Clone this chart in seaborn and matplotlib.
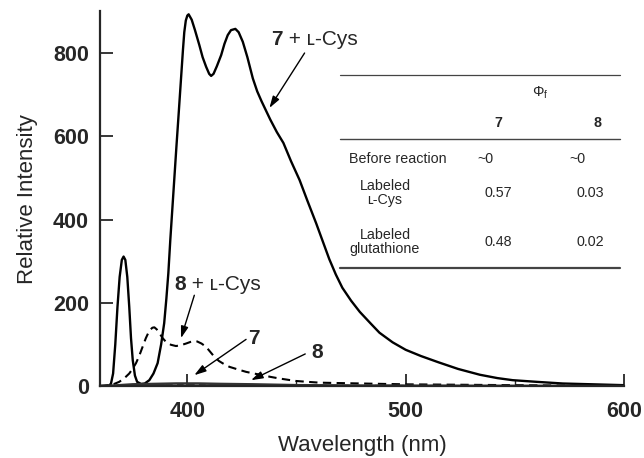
import numpy as np
import pandas as pd
import matplotlib.pyplot as plt
from matplotlib.lines import Line2D
import seaborn as sns

# spectra (wavelength nm, relative intensity)
wl_7cys = [360, 362, 364, 365, 366, 367, 368, 369, 370, 370.8, 371.6, 372.5, 373.4, 374.2,
           375, 376, 377, 378.8, 380.5, 382.6, 384.5, 386.4, 388, 389.4, 390.4, 391.3,
           392.2, 393, 394, 395, 396, 397, 398, 398.6, 399.3, 400, 400.6, 402, 403.5,
           405.5, 407, 408.6, 410, 410.9, 412, 413.5, 415.5, 417, 418.5, 420, 422, 423.5,
           425.4, 427.5, 430, 432, 434, 436, 438, 441, 444, 447.5, 451.4, 455, 459, 462,
           465, 468, 471, 475, 479, 484, 488, 494, 500, 507, 515, 524, 534, 542, 549,
           560, 572, 586, 600]
int_7cys = [0, 0, 1, 5, 30, 100, 190, 262, 303, 311, 303, 262, 190, 115,
            62, 25, 10, 5, 6, 14, 30, 55, 100, 151, 210, 271,
            351, 415, 495, 575, 652, 730, 808, 850, 878, 890, 893, 880, 855,
            819, 790, 767, 750, 745, 750, 768, 795, 822, 843, 855, 858, 850,
            827, 790, 739, 708, 684, 662, 640, 610, 584, 540, 495, 445, 391, 348,
            305, 268, 236, 205, 178, 150, 128, 105, 87, 72, 57, 41, 27, 19, 14,
            10, 6, 4, 2]

wl_8cys = [360, 364.2, 366.5, 368.8, 371, 373.4, 375, 376.5, 378, 379.5, 381, 382.6, 384,
           384.9, 386, 387.2, 388.7, 390.2, 392.5, 394.8, 397, 399.4, 401.5, 403, 404.5,
           406.5, 408.6, 410.5, 412.4, 414.5, 417, 419.3, 423, 426.9, 430.5, 434.5, 438,
           442.2, 446, 449.9, 455, 460.6, 470, 480, 490, 500, 525, 550, 575, 600]
int_8cys = [0, 2, 5, 10, 18, 30, 42, 55, 73, 94, 115, 133, 140,
            141, 136, 127, 115, 106, 99, 96, 98, 102, 106, 108, 107,
            102, 94, 82, 70, 60, 52, 46, 40, 34, 30, 26, 22,
            18, 15, 12, 10, 8, 7, 6, 5, 4, 3, 2, 1, 1]

wl_7 = [360, 366, 375, 385, 395, 405, 415, 430, 450, 480, 520, 600]
int_7 = [0, 1, 4, 5, 6, 6, 5, 4, 2, 1, 0.5, 0]

wl_8 = [360, 370, 385, 400, 420, 445, 480, 530, 600]
int_8 = [0, 1, 2, 3, 2, 1.5, 1, 0.5, 0]

# quantum yield table
row_labels = ["Before reaction", "Labeled\n\u029f-Cys", "Labeled\nglutathione"]
phi_7 = ["~0", "0.57", "0.48"]
phi_8 = ["~0", "0.03", "0.02"]

sns.set_style("ticks")
plt.rcParams['font.family'] = ['Liberation Sans', 'DejaVu Sans']
plt.rcParams['mathtext.fontset'] = 'custom'
plt.rcParams['mathtext.rm'] = 'Liberation Sans'
plt.rcParams['mathtext.it'] = 'Liberation Sans:italic'

W, H = 644, 458
fig = plt.figure(figsize=(W / 100, H / 100), dpi=100)
ax = fig.add_axes([100 / W, 1 - 386 / H, 524 / W, (386 - 11.4) / H])

sns.lineplot(x=wl_7cys, y=int_7cys, color='black', lw=1.7, ax=ax)
sns.lineplot(x=wl_8cys, y=int_8cys, color='black', lw=1.5, linestyle=(0, (4, 2.6)), ax=ax)
sns.lineplot(x=wl_7, y=int_7, color='#333333', lw=1.8, ax=ax)
sns.lineplot(x=wl_8, y=int_8, color='#333333', lw=1.2, linestyle=(0, (4, 2.6)), ax=ax)

ax.set_xlim(360, 600)
ax.set_ylim(0, 900)
ax.set_xticks([400, 500, 600])
ax.set_xticks([450, 550], minor=True)
ax.set_yticks([0, 200, 400, 600, 800])
ax.tick_params(axis='both', which='major', direction='in', length=9, width=1.3,
               labelsize=15.5)
ax.tick_params(axis='y', which='major', pad=8)
ax.tick_params(axis='x', which='major', pad=11)
ax.tick_params(axis='x', which='minor', direction='in', length=4.5, width=1.0)
for lab in ax.get_xticklabels() + ax.get_yticklabels():
    lab.set_fontweight('bold')
sns.despine(ax=ax)
for s in ['left', 'bottom']:
    ax.spines[s].set_linewidth(1.6)

ax.set_xlabel('Wavelength (nm)', fontsize=16, labelpad=9)
ax.set_ylabel('Relative Intensity', fontsize=16, labelpad=11)

# curve labels: bold compound number followed by regular text
def curve_label(x, y, num, rest=""):
    t = ax.text(x, y, num, fontsize=15, fontweight='bold', va='center', ha='left')
    if rest:
        ax.annotate(rest, xy=(1, 0), xycoords=t, fontsize=15, va='bottom', ha='left')

arrow = dict(arrowstyle='-|>,head_length=0.7,head_width=0.22', color='black', lw=1.0,
             shrinkA=0, shrinkB=0)

curve_label(438.4, 832, "7", " + \u029f-Cys")
ax.annotate("", xy=(437.6, 668), xytext=(453.7, 800), arrowprops=arrow)

curve_label(394.0, 243, "8", " + \u029f-Cys")
ax.annotate("", xy=(397.1, 115), xytext=(403.2, 218), arrowprops=arrow)

curve_label(428.0, 115, "7")
ax.annotate("", xy=(403.2, 26), xytext=(426.9, 112), arrowprops=arrow)

curve_label(456.6, 80, "8")
ax.annotate("", xy=(429.2, 14), xytext=(454.0, 77), arrowprops=arrow)

# inset table of quantum yields
def fx(px):
    return px / W

def fy(py):
    return 1 - py / H

for py, lw in [(75, 0.9), (139, 1.0), (268, 1.6)]:
    fig.add_artist(Line2D([fx(340), fx(620)], [fy(py), fy(py)], color='#444444', lw=lw))

fs = 10.3
fig.text(fx(540), fy(93), r"$\it{\Phi}_{\rm f}$", fontsize=fs, ha='center', va='center')
fig.text(fx(498), fy(123), "7", fontsize=fs, fontweight='bold', ha='center', va='center')
fig.text(fx(597), fy(123), "8", fontsize=fs, fontweight='bold', ha='center', va='center')

row_y = [159, 193, 242]
for lab, v7, v8, py in zip(row_labels, phi_7, phi_8, row_y):
    rx = 398 if lab.startswith("Before") else 385
    fig.text(fx(rx), fy(py), lab, fontsize=fs, ha='center', va='center', linespacing=0.95)
    fig.text(fx(498 if v7 != "~0" else 485), fy(py), v7, fontsize=fs, ha='center', va='center')
    fig.text(fx(590 if v8 != "~0" else 577), fy(py), v8, fontsize=fs, ha='center', va='center')

fig.savefig('out.png', dpi=100)
